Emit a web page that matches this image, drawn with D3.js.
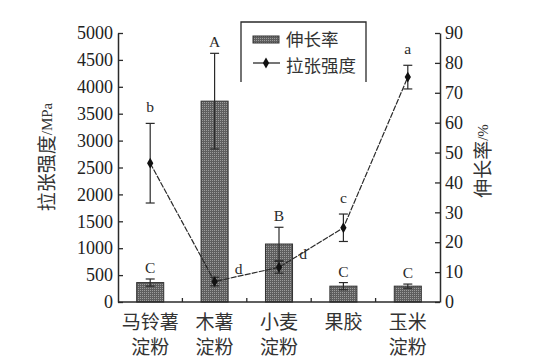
<!DOCTYPE html>
<html>
<head>
<meta charset="utf-8">
<script src="https://cdn.jsdelivr.net/npm/d3@7"></script>
<style>
  html, body { margin: 0; padding: 0; background: #fff; }
  svg { display: block; }
</style>
</head>
<body>
<svg id="chart" width="554" height="360"></svg>
<script>
// ---------- data ----------
const categories = ["马铃薯\n淀粉", "木薯\n淀粉", "小麦\n淀粉", "果胶", "玉米\n淀粉"];
const elongation = [6.5, 67.2, 19.4, 5.3, 5.3];          // 伸长率 / %
const elongationErr = [1.2, 16.0, 5.6, 1.2, 0.7];
const elongationLetters = ["C", "A", "B", "C", "C"];
const strength = [2580, 380, 645, 1380, 4180];           // 拉张强度 / MPa
const strengthErr = [740, 80, 110, 255, 220];
const strengthLetters = ["b", "d", "d", "c", "a"];
const leftTicks = [0, 500, 1000, 1500, 2000, 2500, 3000, 3500, 4000, 4500, 5000];
const rightTicks = [0, 10, 20, 30, 40, 50, 60, 70, 80, 90];

// ---------- layout ----------
const svg = d3.select("#chart");
const L = 118, R = 440, T = 33, B = 302;
const ink = "#2a2a2a";
const serif = "'Liberation Serif', 'DejaVu Serif', serif";
const cjk = "'Noto Sans CJK SC', 'Noto Sans', sans-serif";

const x = d3.scaleBand().domain(categories).range([L, R]).padding(0);
const yL = d3.scaleLinear().domain([0, 5000]).range([B, T]);
const yR = d3.scaleLinear().domain([0, 90]).range([B, T]);

// pattern for bars
const defs = svg.append("defs");
const pat = defs.append("pattern").attr("id", "hatch")
  .attr("width", 2).attr("height", 2).attr("patternUnits", "userSpaceOnUse");
pat.append("rect").attr("width", 2).attr("height", 2).attr("fill", "#5e5e5e");
pat.append("rect").attr("width", 1).attr("height", 1).attr("fill", "#9c9c9c");

// ---------- bars (伸长率, right axis) ----------
const bw = x.bandwidth() * 0.42;
const cx = c => x(c) + x.bandwidth() / 2;
const rows = categories.map((c, i) => ({
  c, i, e: elongation[i], ee: elongationErr[i], el: elongationLetters[i],
  s: strength[i], se: strengthErr[i], sl: strengthLetters[i]
}));

svg.append("g").selectAll("rect").data(rows).join("rect")
  .attr("x", d => cx(d.c) - bw / 2)
  .attr("y", d => yR(d.e))
  .attr("width", bw)
  .attr("height", d => yR(0) - yR(d.e))
  .attr("fill", "url(#hatch)")
  .attr("stroke", "#333").attr("stroke-width", 1);

// bar error bars
const capW = 9;
const gBE = svg.append("g").attr("stroke", ink).attr("stroke-width", 1.2);
gBE.selectAll("line.v").data(rows).join("line").attr("class", "v")
  .attr("x1", d => cx(d.c)).attr("x2", d => cx(d.c))
  .attr("y1", d => yR(d.e + d.ee)).attr("y2", d => yR(d.e - d.ee));
gBE.selectAll("line.t").data(rows).join("line").attr("class", "t")
  .attr("x1", d => cx(d.c) - capW / 2).attr("x2", d => cx(d.c) + capW / 2)
  .attr("y1", d => yR(d.e + d.ee)).attr("y2", d => yR(d.e + d.ee));
gBE.selectAll("line.b").data(rows).join("line").attr("class", "b")
  .attr("x1", d => cx(d.c) - capW / 2).attr("x2", d => cx(d.c) + capW / 2)
  .attr("y1", d => yR(d.e - d.ee)).attr("y2", d => yR(d.e - d.ee));

svg.append("g").selectAll("text").data(rows).join("text")
  .attr("x", d => cx(d.c))
  .attr("y", d => yR(d.e + d.ee) - 6)
  .attr("text-anchor", "middle")
  .attr("font-family", serif).attr("font-size", 15.5).attr("fill", ink)
  .text(d => d.el);

// ---------- line (拉张强度, left axis) ----------
const line = d3.line().x(d => cx(d.c)).y(d => yL(d.s));
svg.append("path").datum(rows)
  .attr("d", line).attr("fill", "none")
  .attr("stroke", ink).attr("stroke-width", 1.2)
  .attr("stroke-dasharray", "6,1.2");

const gLE = svg.append("g").attr("stroke", ink).attr("stroke-width", 1.2);
gLE.selectAll("line.v").data(rows).join("line").attr("class", "v")
  .attr("x1", d => cx(d.c)).attr("x2", d => cx(d.c))
  .attr("y1", d => yL(d.s + d.se)).attr("y2", d => yL(d.s - d.se));
gLE.selectAll("line.t").data(rows).join("line").attr("class", "t")
  .attr("x1", d => cx(d.c) - capW / 2).attr("x2", d => cx(d.c) + capW / 2)
  .attr("y1", d => yL(d.s + d.se)).attr("y2", d => yL(d.s + d.se));
gLE.selectAll("line.b").data(rows).join("line").attr("class", "b")
  .attr("x1", d => cx(d.c) - capW / 2).attr("x2", d => cx(d.c) + capW / 2)
  .attr("y1", d => yL(d.s - d.se)).attr("y2", d => yL(d.s - d.se));

const diamond = d3.symbol().type(d3.symbolDiamond).size(34);
svg.append("g").selectAll("path").data(rows).join("path")
  .attr("transform", d => `translate(${cx(d.c)},${yL(d.s)})`)
  .attr("d", diamond).attr("fill", "#111");

// lowercase letters: the two low points get their letter on the right side
const rightSide = new Set([1, 2]);
svg.append("g").selectAll("text").data(rows).join("text")
  .attr("x", d => rightSide.has(d.i) ? cx(d.c) + 24 : cx(d.c))
  .attr("y", d => rightSide.has(d.i) ? yL(d.s) - 8 : yL(d.s + d.se) - 11)
  .attr("text-anchor", "middle")
  .attr("font-family", serif).attr("font-size", 15.5).attr("fill", ink)
  .text(d => d.sl);

// ---------- axes ----------
const axL = svg.append("g").attr("transform", `translate(${L},0)`)
  .call(d3.axisLeft(yL).tickValues(leftTicks).tickFormat(d3.format("d"))
    .tickSizeInner(-5).tickSizeOuter(0).tickPadding(5));
const axR = svg.append("g").attr("transform", `translate(${R},0)`)
  .call(d3.axisRight(yR).tickValues(rightTicks).tickFormat(d3.format("d"))
    .tickSizeInner(-5).tickSizeOuter(0).tickPadding(5));
[axL, axR].forEach(g => {
  g.select(".domain").attr("stroke", ink).attr("stroke-width", 1.5);
  g.selectAll(".tick line").attr("stroke", ink).attr("stroke-width", 1.3);
  g.selectAll(".tick text").attr("font-family", serif).attr("font-size", 18).attr("fill", "#222");
});

// bottom axis
const gx = svg.append("g");
gx.append("line").attr("x1", L).attr("x2", R).attr("y1", B).attr("y2", B)
  .attr("stroke", ink).attr("stroke-width", 1.5);
gx.selectAll("line.tk").data(categories.slice(0, -1)).join("line").attr("class", "tk")
  .attr("x1", c => x(c) + x.bandwidth()).attr("x2", c => x(c) + x.bandwidth())
  .attr("y1", B).attr("y2", B - 4)
  .attr("stroke", ink).attr("stroke-width", 1.3);
const xl = gx.selectAll("text").data(categories).join("text")
  .attr("text-anchor", "middle")
  .attr("font-family", cjk).attr("font-size", 19).attr("fill", "#333");
xl.selectAll("tspan").data(c => c.split("\n").map(t => ({ t, c }))).join("tspan")
  .attr("x", d => cx(d.c))
  .attr("y", (d, j) => 329 + j * 25)
  .text(d => d.t);

// axis titles
const tl = svg.append("text").attr("transform", "translate(54,157) rotate(-90)")
  .attr("text-anchor", "middle").attr("fill", "#333");
tl.append("tspan").attr("font-family", cjk).attr("font-size", 19).text("拉张强度");
tl.append("tspan").attr("font-family", serif).attr("font-size", 15).attr("dy", -2).text("/MPa");

const tr = svg.append("text").attr("transform", "translate(490,161) rotate(-90)")
  .attr("text-anchor", "middle").attr("fill", "#333");
tr.append("tspan").attr("font-family", cjk).attr("font-size", 19).text("伸长率");
tr.append("tspan").attr("font-family", serif).attr("font-size", 15).attr("dy", -2).text("/%");

// ---------- legend ----------
const lg = svg.append("g");
lg.append("path").attr("d", "M241,82V22H366V82").attr("fill", "none")
  .attr("stroke", ink).attr("stroke-width", 1.3);
lg.append("rect").attr("x", 253).attr("y", 36).attr("width", 26).attr("height", 7)
  .attr("fill", "url(#hatch)").attr("stroke", "#333").attr("stroke-width", 1);
lg.append("text").attr("x", 286).attr("y", 46)
  .attr("font-family", cjk).attr("font-size", 17.5).attr("fill", "#333").text("伸长率");
lg.append("line").attr("x1", 253).attr("x2", 280).attr("y1", 63).attr("y2", 63)
  .attr("stroke", ink).attr("stroke-width", 1.3);
lg.append("path").attr("transform", "translate(266,63)").attr("d", diamond).attr("fill", "#111");
lg.append("text").attr("x", 286).attr("y", 72)
  .attr("font-family", cjk).attr("font-size", 17.5).attr("fill", "#333").text("拉张强度");
</script>
</body>
</html>
